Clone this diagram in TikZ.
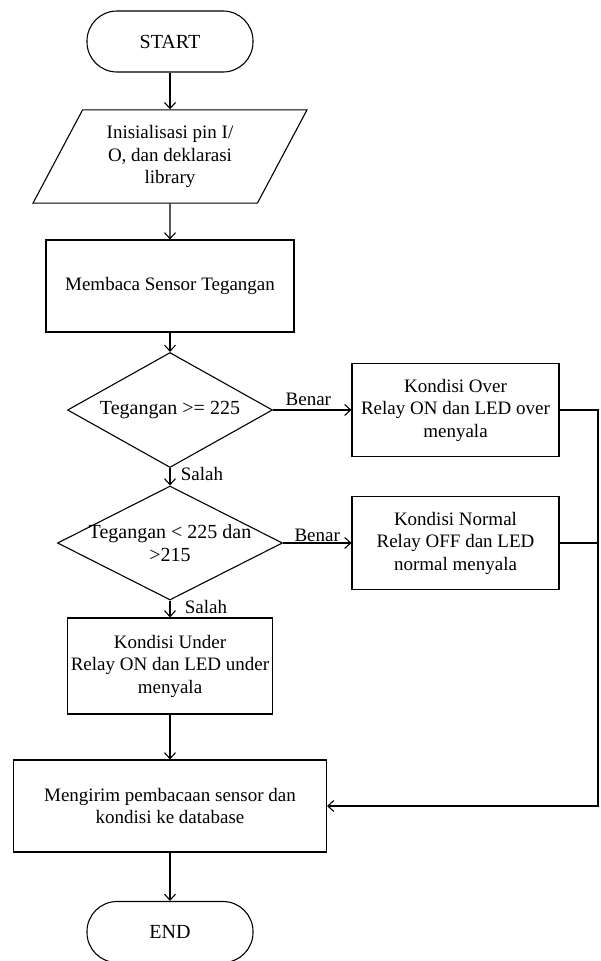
\documentclass[tikz,border=0pt]{standalone}
\usepackage{fontspec}
\setmainfont{Liberation Serif}
\usetikzlibrary{arrows.meta,shapes.geometric,calc}

\begin{document}
\begin{tikzpicture}[x=1pt, y=-1pt, line width=1.1pt,
  every node/.style={font=\fontsize{19}{22.5}\selectfont},
  terminal/.style={draw, rectangle, rounded corners=30pt, minimum width=166pt, minimum height=61pt, font=\fontsize{20}{24}\selectfont},
  io/.style={draw, trapezium, trapezium left angle=62, trapezium right angle=118, trapezium stretches body, inner ysep=15.5pt, minimum width=274pt, align=center},
  process/.style={draw, rectangle, minimum width=207pt, minimum height=93pt, align=center},
  decision/.style={draw, diamond, aspect=2, inner sep=0pt, align=center, font=\fontsize{20}{22.5}\selectfont},
  arr/.style={-{Straight Barb[length=6pt,width=11pt]}}]

\useasboundingbox (0,0) rectangle (601,961);

\node[terminal] (start) at (170,41.5) {START};
\node[io] (init) at (170,156.5) {Inisialisasi pin I/\\O, dan deklarasi\\library};
\node[process, minimum width=248pt, minimum height=92pt] (read) at (170,286) {Membaca Sensor Tegangan};
\node[decision, minimum width=205pt, minimum height=115pt] (cek1) at (170,410) {Tegangan >= 225};
\node[process] (over) at (455.5,410) {Kondisi Over\\Relay ON dan LED over\\menyala};
\node[decision, inner xsep=-6pt, minimum width=225pt, minimum height=114pt] (cek2) at (170,543) {Tegangan < 225 dan\\>215};
\node[process] (normal) at (455.5,543) {Kondisi Normal\\Relay OFF dan LED\\normal menyala};
\node[process, minimum width=205pt, minimum height=96pt] (under) at (170,666) {Kondisi Under\\Relay ON dan LED under\\menyala};
\node[process, minimum width=313pt, minimum height=92pt] (send) at (170,806) {Mengirim pembacaan sensor dan\\kondisi ke database};
\node[terminal] (end) at (170,932) {END};
\coordinate (rail) at (598,410);

% alur utama
\draw[arr] (start) -- (init);
\draw[arr] (init) -- (read);
\draw[arr] (read) -- (cek1);
% cabang kondisi over
\draw[arr] (cek1) -- node[above, pos=.45]{Benar} (over);
\draw[arr] (cek1) -- node[right, pos=.32, xshift=7pt]{Salah} (cek2);
% cabang kondisi normal
\draw[arr] (cek2) -- node[above, inner sep=1pt]{Benar} (normal);
\draw[arr] (cek2) -- node[right, pos=.4, xshift=11pt]{Salah} (under);
\draw[arr] (under) -- (send);
\draw[arr] (send) -- (end);
% jalur kembali ke pengiriman data
\draw[arr] (over.east) -- (rail) -- (rail |- send.east) -- (send.east);
\draw (normal.east) -- (normal.east -| rail);

\end{tikzpicture}
\end{document}
